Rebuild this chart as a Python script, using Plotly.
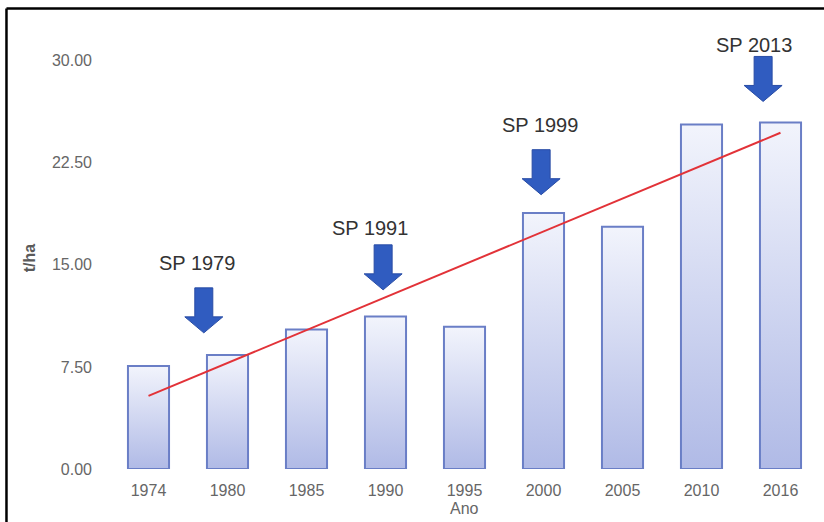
import plotly.graph_objects as go

# ---- data ----
years = ["1974", "1980", "1985", "1990", "1995", "2000", "2005", "2010", "2016"]
yields = [7.57, 8.38, 10.25, 11.2, 10.45, 18.8, 17.8, 25.3, 25.45]
trend_years = ["1974", "2016"]
trend_values = [5.37, 24.7]
y_ticks = [0, 7.5, 15, 22.5, 30]
y_ticktext = ["0.00", "7.50", "15.00", "22.50", "30.00"]

# cultivar release markers (arrow tip position, label offset above the tip in px)
sp_labels = ["SP 1979", "SP 1991", "SP 1999", "SP 2013"]
sp_arrow_x = [0.70, 2.97, 4.97, 7.78]
sp_arrow_tip = [10.0, 13.16, 20.15, 27.0]
sp_label_x = [0.61, 2.80, 4.96, 7.66]
sp_label_dy = [70, 62, 70, 56]

FONT = "Liberation Sans, Arial, sans-serif"
idx = {y: i for i, y in enumerate(years)}
half = 0.26

fig = go.Figure()

# bars drawn as filled polygons to allow a vertical gradient
for i, v in enumerate(yields):
    fig.add_trace(go.Scatter(
        x=[i - half, i - half, i + half, i + half, i - half],
        y=[0, v, v, 0, 0],
        mode="lines",
        fill="toself",
        fillgradient=dict(type="vertical", start=0, stop=v,
                          colorscale=[[0, "rgb(176,186,230)"], [1, "rgb(242,244,252)"]]),
        line=dict(color="rgb(106,126,198)", width=2),
        hoverinfo="skip",
        showlegend=False,
    ))

# trend line
fig.add_trace(go.Scatter(
    x=[idx[y] for y in trend_years], y=trend_values,
    mode="lines", line=dict(color="rgb(226,50,56)", width=2),
    showlegend=False, hoverinfo="skip",
))

arrow_path = "M 0 0 L -19 16 L -9 16 L -9 45 L 9 45 L 9 16 L 19 16 Z"
for ax_, tip, lab, lx, dy in zip(sp_arrow_x, sp_arrow_tip, sp_labels, sp_label_x, sp_label_dy):
    fig.add_shape(type="path", path=arrow_path,
                  xref="x", yref="y",
                  xsizemode="pixel", ysizemode="pixel",
                  xanchor=ax_, yanchor=tip,
                  fillcolor="rgb(48,92,192)",
                  line=dict(color="rgb(40,76,165)", width=1))
    fig.add_annotation(x=lx, y=tip, yshift=dy, xref="x", yref="y", text=lab, showarrow=False,
                       font=dict(family=FONT, size=20, color="#333333"))

# x-axis title, just under the 1995 label as in the original
fig.add_annotation(x=idx["1995"], y=0, xref="x", yref="paper", yanchor="top", yshift=-29,
                   text="Ano", showarrow=False,
                   font=dict(family=FONT, size=16, color="#666666"))

# frame lines of the original figure (left and top edges)
fig.add_shape(type="line", xref="paper", yref="paper",
              x0=-0.1442, x1=-0.1442, y0=-0.2, y1=1.0912,
              line=dict(color="black", width=2.5))
fig.add_shape(type="line", xref="paper", yref="paper",
              x0=-0.1442, x1=1.2, y0=1.0912, y1=1.0912,
              line=dict(color="black", width=2.5))

fig.update_layout(
    width=824, height=522,
    margin=dict(l=109, r=4, t=47, b=53),
    paper_bgcolor="white", plot_bgcolor="white",
    font=dict(family=FONT, color="#666666", size=16),
    showlegend=False,
)
fig.update_xaxes(
    range=[-0.5, 8.5],
    tickmode="array", tickvals=list(range(len(years))), ticktext=years,
    showgrid=False, zeroline=False, showline=False,
    ticks="", ticklabelstandoff=10,
    tickfont=dict(family=FONT, size=16, color="#666666"),
    automargin=False,
)
fig.update_yaxes(
    range=[0, 31],
    tickmode="array", tickvals=y_ticks, ticktext=y_ticktext,
    showgrid=False, zeroline=False, showline=False,
    ticks="", ticklabelstandoff=16,
    tickfont=dict(family=FONT, size=16, color="#666666"),
    title=dict(text="<b>t/ha</b>", standoff=12, font=dict(family=FONT, size=16, color="#5a5a5a")),
    automargin=False,
)

fig.write_html("out.html", config={"displayModeBar": False},
               post_script="document.body.style.margin='0';")
